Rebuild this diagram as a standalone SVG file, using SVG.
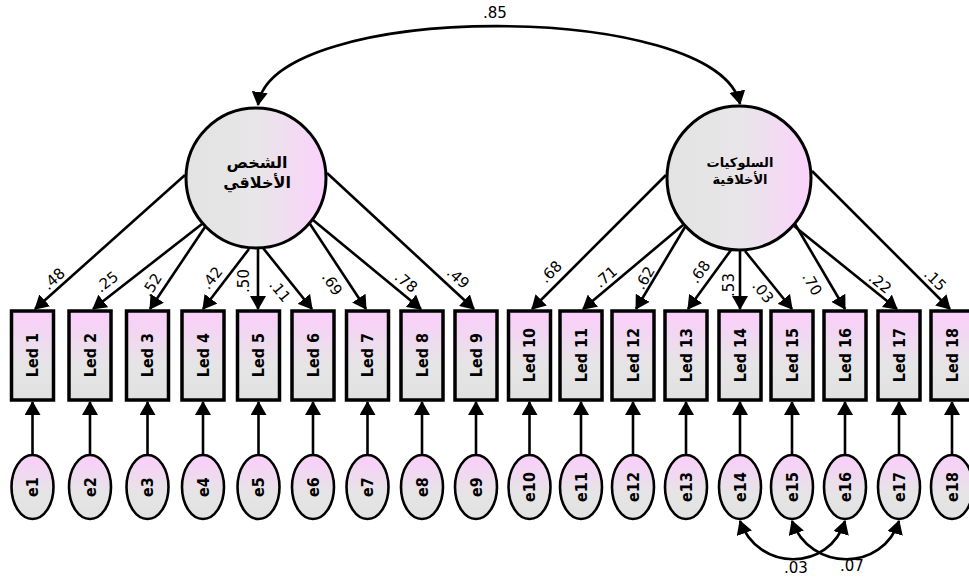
<svg xmlns="http://www.w3.org/2000/svg" width="969" height="578" viewBox="0 0 969 578">
  <defs>
    <linearGradient id="gBox" x1="0" y1="0" x2="0" y2="1">
      <stop offset="0" stop-color="#fbcdfb"/>
      <stop offset="0.5" stop-color="#e9e1e9"/>
      <stop offset="0.62" stop-color="#e5e5e5"/>
      <stop offset="1" stop-color="#e1e1e1"/>
    </linearGradient>
    <linearGradient id="gLatent" x1="0" y1="0" x2="1" y2="0">
      <stop offset="0" stop-color="#e3e3e3"/>
      <stop offset="0.5" stop-color="#e8e6e8"/>
      <stop offset="1" stop-color="#fbd2fb"/>
    </linearGradient>
    <marker id="arrow" viewBox="0 0 14 16" refX="13" refY="8" markerWidth="14" markerHeight="16" markerUnits="userSpaceOnUse" orient="auto-start-reverse">
      <path d="M0,0 L14,8 L0,16 z" fill="#000"/>
    </marker>
    <style>
      .obs { fill: url(#gBox); stroke: #000; stroke-width: 3.5; }
      .err { fill: url(#gBox); stroke: #000; stroke-width: 2.6; }
      .lat { fill: url(#gLatent); stroke: #000; stroke-width: 3; }
      .path { fill: none; stroke: #000; stroke-width: 2.6; marker-end: url(#arrow); }
      .cov { fill: none; stroke: #000; stroke-width: 2.6; marker-start: url(#arrow); marker-end: url(#arrow); }
      .lbl { font-family: "DejaVu Sans Condensed", "DejaVu Sans", sans-serif; font-stretch: condensed; font-weight: bold; font-size: 16px; fill: #000; text-anchor: middle; dominant-baseline: central; }
      .num { font-family: "DejaVu Sans", sans-serif; font-size: 15px; fill: #000; text-anchor: middle; dominant-baseline: central; }
      .ar { font-family: "DejaVu Sans", sans-serif; font-weight: bold; fill: #000; text-anchor: middle; }
    </style>
  </defs>

  <!-- connectors -->
  <g id="connectors">
    <!-- covariance between the two latent factors -->
    <path class="cov" d="M258,105 C272,0 718,0 740,104"/>
    <!-- loadings of the first factor -->
    <line class="path" x1="185" y1="175" x2="35" y2="309"/>
    <line class="path" x1="202" y1="224" x2="93" y2="309"/>
    <line class="path" x1="205" y1="227" x2="150" y2="309"/>
    <line class="path" x1="249" y1="249" x2="203" y2="309"/>
    <line class="path" x1="258" y1="249" x2="258" y2="309"/>
    <line class="path" x1="263" y1="248" x2="312" y2="309"/>
    <line class="path" x1="310" y1="224" x2="366" y2="309"/>
    <line class="path" x1="313" y1="220" x2="421" y2="309"/>
    <line class="path" x1="327" y1="173" x2="474" y2="309"/>
    <!-- loadings of the second factor -->
    <line class="path" x1="666" y1="175" x2="532" y2="309"/>
    <line class="path" x1="683" y1="225" x2="583" y2="309"/>
    <line class="path" x1="685" y1="227" x2="636" y2="309"/>
    <line class="path" x1="731" y1="250" x2="688" y2="309"/>
    <line class="path" x1="740" y1="251" x2="740" y2="309"/>
    <line class="path" x1="745" y1="251" x2="792" y2="309"/>
    <line class="path" x1="795" y1="224" x2="845" y2="309"/>
    <line class="path" x1="794" y1="226" x2="897" y2="309"/>
    <line class="path" x1="812" y1="171" x2="950" y2="309"/>
    <!-- error terms -->
    <line class="path" x1="32.5" y1="454" x2="32.5" y2="402"/>
    <line class="path" x1="90" y1="454" x2="90" y2="402"/>
    <line class="path" x1="147.5" y1="454" x2="147.5" y2="402"/>
    <line class="path" x1="203" y1="454" x2="203" y2="402"/>
    <line class="path" x1="258.5" y1="454" x2="258.5" y2="402"/>
    <line class="path" x1="313" y1="454" x2="313" y2="402"/>
    <line class="path" x1="367.5" y1="454" x2="367.5" y2="402"/>
    <line class="path" x1="422" y1="454" x2="422" y2="402"/>
    <line class="path" x1="476" y1="454" x2="476" y2="402"/>
    <line class="path" x1="529.5" y1="454" x2="529.5" y2="402"/>
    <line class="path" x1="581" y1="454" x2="581" y2="402"/>
    <line class="path" x1="633" y1="454" x2="633" y2="402"/>
    <line class="path" x1="686" y1="454" x2="686" y2="402"/>
    <line class="path" x1="740" y1="454" x2="740" y2="402"/>
    <line class="path" x1="792" y1="454" x2="792" y2="402"/>
    <line class="path" x1="845" y1="454" x2="845" y2="402"/>
    <line class="path" x1="899" y1="454" x2="899" y2="402"/>
    <line class="path" x1="952" y1="454" x2="952" y2="402"/>
    <!-- error covariances -->
    <path class="cov" d="M740,521 C758,572 829,572 845,521"/>
    <path class="cov" d="M792,521 C810,572 883,572 899,521"/>
  </g>

  <!-- path coefficients -->
  <g id="coefficients">
    <text class="num" x="495" y="13">.85</text>
    <text class="num" transform="translate(54,279) rotate(-42)">.48</text>
    <text class="num" transform="translate(107,282) rotate(-38)">.25</text>
    <text class="num" transform="translate(152,285) rotate(-58)">.52</text>
    <text class="num" transform="translate(212,278) rotate(-52)">.42</text>
    <text class="num" transform="translate(244,281) rotate(-90)">.50</text>
    <text class="num" transform="translate(280,291) rotate(51)">.11</text>
    <text class="num" transform="translate(332,284) rotate(57)">.69</text>
    <text class="num" transform="translate(406,282) rotate(39)">.78</text>
    <text class="num" transform="translate(458,278) rotate(42)">.49</text>
    <text class="num" transform="translate(551,272) rotate(-45)">.68</text>
    <text class="num" transform="translate(606,277) rotate(-40)">.71</text>
    <text class="num" transform="translate(645,278) rotate(-60)">.62</text>
    <text class="num" transform="translate(700,272) rotate(-54)">.68</text>
    <text class="num" transform="translate(729,285) rotate(-90)">.53</text>
    <text class="num" transform="translate(763,292) rotate(51)">.03</text>
    <text class="num" transform="translate(812,284) rotate(60)">.70</text>
    <text class="num" transform="translate(880,283) rotate(39)">.22</text>
    <text class="num" transform="translate(935,280) rotate(45)">.15</text>
    <text class="num" x="796" y="568">.03</text>
    <text class="num" x="852" y="566">.07</text>
  </g>

  <!-- latent factors -->
  <g id="factor1">
    <circle class="lat" cx="256" cy="178" r="70"/>
    <text class="ar" x="257" y="168" font-size="16">الشخص</text>
    <text class="ar" x="257" y="188" font-size="16">الأخلاقي</text>
  </g>
  <g id="factor2">
    <circle class="lat" cx="739" cy="178" r="72"/>
    <text class="ar" x="740" y="167" font-size="13">السلوكيات</text>
    <text class="ar" x="740" y="184" font-size="13">الأخلاقية</text>
  </g>

  <!-- observed indicators -->
  <g id="led1"><rect class="obs" x="11.5" y="311" width="42" height="89"/><text class="lbl" transform="translate(32.5,355) rotate(-90)">Led 1</text></g>
  <g id="led2"><rect class="obs" x="69" y="311" width="42" height="89"/><text class="lbl" transform="translate(90,355) rotate(-90)">Led 2</text></g>
  <g id="led3"><rect class="obs" x="126.5" y="311" width="42" height="89"/><text class="lbl" transform="translate(147.5,355) rotate(-90)">Led 3</text></g>
  <g id="led4"><rect class="obs" x="182" y="311" width="42" height="89"/><text class="lbl" transform="translate(203,355) rotate(-90)">Led 4</text></g>
  <g id="led5"><rect class="obs" x="237.5" y="311" width="42" height="89"/><text class="lbl" transform="translate(258.5,355) rotate(-90)">Led 5</text></g>
  <g id="led6"><rect class="obs" x="292" y="311" width="42" height="89"/><text class="lbl" transform="translate(313,355) rotate(-90)">Led 6</text></g>
  <g id="led7"><rect class="obs" x="346.5" y="311" width="42" height="89"/><text class="lbl" transform="translate(367.5,355) rotate(-90)">Led 7</text></g>
  <g id="led8"><rect class="obs" x="401" y="311" width="42" height="89"/><text class="lbl" transform="translate(422,355) rotate(-90)">Led 8</text></g>
  <g id="led9"><rect class="obs" x="455" y="311" width="42" height="89"/><text class="lbl" transform="translate(476,355) rotate(-90)">Led 9</text></g>
  <g id="led10"><rect class="obs" x="508.5" y="311" width="42" height="89"/><text class="lbl" transform="translate(529.5,355) rotate(-90)">Led 10</text></g>
  <g id="led11"><rect class="obs" x="560" y="311" width="42" height="89"/><text class="lbl" transform="translate(581,355) rotate(-90)">Led 11</text></g>
  <g id="led12"><rect class="obs" x="612" y="311" width="42" height="89"/><text class="lbl" transform="translate(633,355) rotate(-90)">Led 12</text></g>
  <g id="led13"><rect class="obs" x="665" y="311" width="42" height="89"/><text class="lbl" transform="translate(686,355) rotate(-90)">Led 13</text></g>
  <g id="led14"><rect class="obs" x="719" y="311" width="42" height="89"/><text class="lbl" transform="translate(740,355) rotate(-90)">Led 14</text></g>
  <g id="led15"><rect class="obs" x="771" y="311" width="42" height="89"/><text class="lbl" transform="translate(792,355) rotate(-90)">Led 15</text></g>
  <g id="led16"><rect class="obs" x="824" y="311" width="42" height="89"/><text class="lbl" transform="translate(845,355) rotate(-90)">Led 16</text></g>
  <g id="led17"><rect class="obs" x="878" y="311" width="42" height="89"/><text class="lbl" transform="translate(899,355) rotate(-90)">Led 17</text></g>
  <g id="led18"><rect class="obs" x="931" y="311" width="42" height="89"/><text class="lbl" transform="translate(952,355) rotate(-90)">Led 18</text></g>

  <!-- error terms -->
  <g id="e1"><ellipse class="err" cx="32.5" cy="487" rx="21" ry="32"/><text class="lbl" transform="translate(32.5,487) rotate(-90)">e1</text></g>
  <g id="e2"><ellipse class="err" cx="90" cy="487" rx="21" ry="32"/><text class="lbl" transform="translate(90,487) rotate(-90)">e2</text></g>
  <g id="e3"><ellipse class="err" cx="147.5" cy="487" rx="21" ry="32"/><text class="lbl" transform="translate(147.5,487) rotate(-90)">e3</text></g>
  <g id="e4"><ellipse class="err" cx="203" cy="487" rx="21" ry="32"/><text class="lbl" transform="translate(203,487) rotate(-90)">e4</text></g>
  <g id="e5"><ellipse class="err" cx="258.5" cy="487" rx="21" ry="32"/><text class="lbl" transform="translate(258.5,487) rotate(-90)">e5</text></g>
  <g id="e6"><ellipse class="err" cx="313" cy="487" rx="21" ry="32"/><text class="lbl" transform="translate(313,487) rotate(-90)">e6</text></g>
  <g id="e7"><ellipse class="err" cx="367.5" cy="487" rx="21" ry="32"/><text class="lbl" transform="translate(367.5,487) rotate(-90)">e7</text></g>
  <g id="e8"><ellipse class="err" cx="422" cy="487" rx="21" ry="32"/><text class="lbl" transform="translate(422,487) rotate(-90)">e8</text></g>
  <g id="e9"><ellipse class="err" cx="476" cy="487" rx="21" ry="32"/><text class="lbl" transform="translate(476,487) rotate(-90)">e9</text></g>
  <g id="e10"><ellipse class="err" cx="529.5" cy="487" rx="21" ry="32"/><text class="lbl" transform="translate(529.5,487) rotate(-90)">e10</text></g>
  <g id="e11"><ellipse class="err" cx="581" cy="487" rx="21" ry="32"/><text class="lbl" transform="translate(581,487) rotate(-90)">e11</text></g>
  <g id="e12"><ellipse class="err" cx="633" cy="487" rx="21" ry="32"/><text class="lbl" transform="translate(633,487) rotate(-90)">e12</text></g>
  <g id="e13"><ellipse class="err" cx="686" cy="487" rx="21" ry="32"/><text class="lbl" transform="translate(686,487) rotate(-90)">e13</text></g>
  <g id="e14"><ellipse class="err" cx="740" cy="487" rx="21" ry="32"/><text class="lbl" transform="translate(740,487) rotate(-90)">e14</text></g>
  <g id="e15"><ellipse class="err" cx="792" cy="487" rx="21" ry="32"/><text class="lbl" transform="translate(792,487) rotate(-90)">e15</text></g>
  <g id="e16"><ellipse class="err" cx="845" cy="487" rx="21" ry="32"/><text class="lbl" transform="translate(845,487) rotate(-90)">e16</text></g>
  <g id="e17"><ellipse class="err" cx="899" cy="487" rx="21" ry="32"/><text class="lbl" transform="translate(899,487) rotate(-90)">e17</text></g>
  <g id="e18"><ellipse class="err" cx="952" cy="487" rx="21" ry="32"/><text class="lbl" transform="translate(952,487) rotate(-90)">e18</text></g>
</svg>
